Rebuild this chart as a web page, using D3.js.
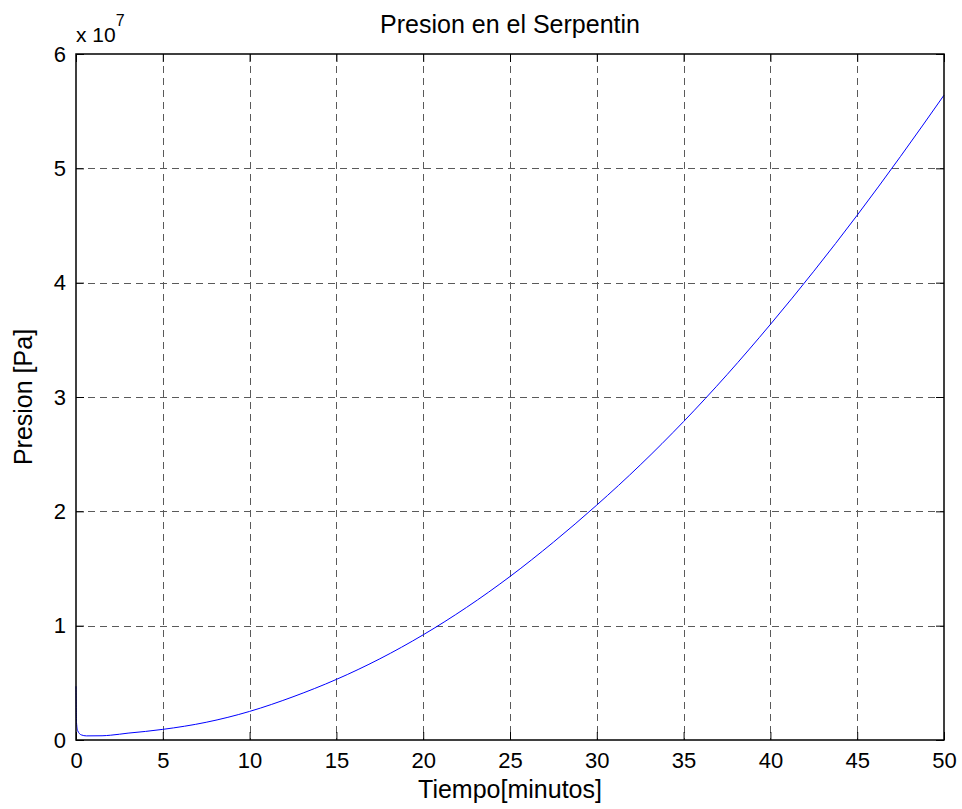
<!DOCTYPE html>
<html>
<head>
<meta charset="utf-8">
<script src="https://cdn.jsdelivr.net/npm/d3@7"></script>
<style>
  html, body { margin: 0; padding: 0; background: #ffffff; }
  svg { display: block; }
  text { font-family: "Liberation Sans", Arial, Helvetica, sans-serif; fill: #000; }
</style>
</head>
<body>
<script>
// ---- data ----
const tiempo = [0, 0.03, 0.1, 0.3, 0.6, 1.5, 2, 3, 4, 5, 7.5, 10, 12.5, 15, 17.5, 20, 22.5, 25, 27.5, 30, 32.5, 35, 37.5, 40, 42.5, 45, 47.5, 50];
const presion = [4.7e6, 1.5e6, 0.8e6, 0.45e6, 0.36e6, 0.37e6, 0.42e6, 0.6e6, 0.75e6, 0.93e6, 1.55e6, 2.5e6, 3.78e6, 5.3e6, 7.1e6, 9.2e6, 11.6e6, 14.3e6, 17.3e6, 20.55e6, 24.05e6, 27.85e6, 31.95e6, 36.35e6, 41.0e6, 45.9e6, 51.05e6, 56.4e6];
const xTicks = [0, 5, 10, 15, 20, 25, 30, 35, 40, 45, 50];
const yTicks = [0, 1e7, 2e7, 3e7, 4e7, 5e7, 6e7];
const titulo = "Presion en el Serpentin";
const xEtiqueta = "Tiempo[minutos]";
const yEtiqueta = "Presion [Pa]";

// ---- layout ----
const W = 962, H = 809;
const L = 76, R = 944, T = 54, B = 740;

const svg = d3.select("body").append("svg").attr("width", W).attr("height", H);
svg.append("rect").attr("width", W).attr("height", H).attr("fill", "#fff");

const x = d3.scaleLinear().domain([0, 50]).range([L, R]);
const y = d3.scaleLinear().domain([0, 6e7]).range([B, T]);

// grid
const grid = svg.append("g").attr("stroke", "#5a5a5a").attr("stroke-width", 1).attr("stroke-dasharray", "7,5");
grid.selectAll("line.v").data(xTicks.filter(d => d > 0 && d < 50)).join("line")
  .attr("x1", d => Math.round(x(d)) + 0.5).attr("x2", d => Math.round(x(d)) + 0.5)
  .attr("y1", T).attr("y2", B);
grid.selectAll("line.h").data(yTicks.filter(d => d > 0 && d < 6e7)).join("line")
  .attr("y1", d => Math.round(y(d)) + 0.5).attr("y2", d => Math.round(y(d)) + 0.5)
  .attr("x1", L).attr("x2", R);

// data line
const line = d3.line().x((d, i) => x(tiempo[i])).y(d => y(d)).curve(d3.curveMonotoneX);
svg.append("path").datum(presion).attr("d", line)
  .attr("fill", "none").attr("stroke", "#0000ff").attr("stroke-width", 1);

// axes (ticks inward, mirrored)
const fmtY = d => d3.format("d")(d / 1e7);
const tickLen = 8;
const axB = d3.axisBottom(x).tickValues(xTicks).tickSize(-tickLen).tickPadding(12);
const axT = d3.axisTop(x).tickValues(xTicks).tickSize(-tickLen).tickFormat("");
const axL = d3.axisLeft(y).tickValues(yTicks).tickSize(-tickLen).tickPadding(10).tickFormat(fmtY);
const axR = d3.axisRight(y).tickValues(yTicks).tickSize(-tickLen).tickFormat("");

function style(g) {
  g.select(".domain").remove();
  g.selectAll(".tick line").attr("stroke", "#000").attr("stroke-width", 1);
  g.selectAll("text").attr("font-size", 22).attr("fill", "#000")
    .attr("font-family", "'Liberation Sans', Arial, sans-serif");
}
svg.append("g").attr("transform", `translate(0,${B})`).call(axB).call(style);
svg.append("g").attr("transform", `translate(0,${T})`).call(axT).call(style);
svg.append("g").attr("transform", `translate(${L},0)`).call(axL).call(style);
svg.append("g").attr("transform", `translate(${R},0)`).call(axR).call(style);

// box
svg.append("rect").attr("x", L).attr("y", T).attr("width", R - L).attr("height", B - T)
  .attr("fill", "none").attr("stroke", "#000").attr("stroke-width", 1.5);

// exponent label
const ex = svg.append("text").attr("x", L).attr("y", 42).attr("font-size", 21);
ex.append("tspan").text("x 10");
ex.append("tspan").attr("dy", -16).attr("font-size", 16).text("7");

// title
svg.append("text").attr("x", (L + R) / 2).attr("y", 33).attr("text-anchor", "middle")
  .attr("font-size", 25).text(titulo);
// x label
svg.append("text").attr("x", (L + R) / 2).attr("y", 798).attr("text-anchor", "middle")
  .attr("font-size", 25).text(xEtiqueta);
// y label
svg.append("text").attr("transform", `translate(32,${(T + B) / 2}) rotate(-90)`)
  .attr("text-anchor", "middle").attr("font-size", 25).text(yEtiqueta);
</script>
</body>
</html>
